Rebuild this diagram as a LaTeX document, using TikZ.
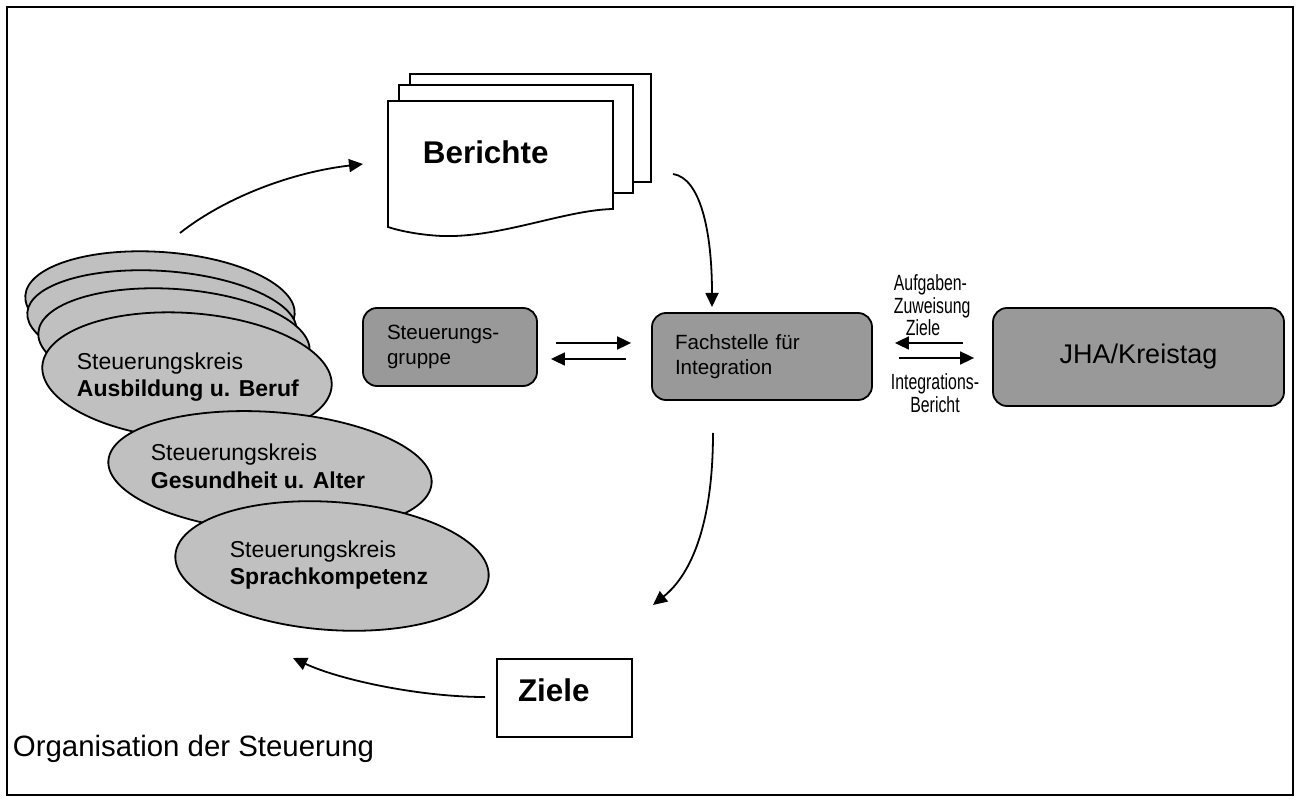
\documentclass[tikz,border=0pt]{standalone}
\usepackage{fontspec}
\setmainfont{Liberation Sans}
\newfontfamily\narrowfont[FakeStretch=0.72]{Liberation Sans}
\usetikzlibrary{arrows.meta}
\definecolor{kreisgray}{RGB}{192,192,192}
\definecolor{boxgray}{RGB}{153,153,153}

\begin{document}
\begin{tikzpicture}[x = 0.5pt, y = -0.5pt, line width = 0.9pt,
                    kreis/.style = {draw, fill = kreisgray},
                    kreistext/.style = {anchor = base west, align = left, inner sep = 0pt,
                                        font = \fontsize{11.5}{13.5}\selectfont},
                    gbox/.style = {draw, fill = boxgray, rounded corners = 7pt, inner sep = 0pt,
                                   align = left, font = \fontsize{10.3}{12.7}\selectfont},
                    doc/.style = {draw, fill = white},
                    arr/.style = {-{Triangle[length = 7pt, width = 6.5pt]}},
                    lbl/.style = {inner sep = 0pt, font = \narrowfont\fontsize{11}{9.5}\selectfont}]
      \useasboundingbox (0, 0) rectangle (1300, 801);
      \draw[line width = 1pt] (7, 7) rectangle (1293, 795);

      % Berichte
      \filldraw[doc] (410, 74) rectangle (651, 182);
      \filldraw[doc] (399, 85) rectangle (633, 193);
      \filldraw[doc] (388, 101) -- (613, 101) -- (613, 209)
            .. controls (565, 210) and (500, 238) .. (442, 236)
            .. controls (420, 235) and (400, 231) .. (388, 227) -- cycle;
      \node [anchor = base west, inner sep = 0pt, font = \bfseries\fontsize{15.7}{18}\selectfont]
            (berichte) at (422, 164){Berichte};

      % Steuerungskreise
      \filldraw[kreis, rotate around = {-4:(160, 305)}] (160, 305) ellipse [x radius = 135, y radius = 53];
      \filldraw[kreis, rotate around = {-4:(162, 322)}] (162, 322) ellipse [x radius = 135, y radius = 51];
      \filldraw[kreis, rotate around = {-4:(174, 342)}] (174, 342) ellipse [x radius = 136, y radius = 53];
      \filldraw[kreis, rotate around = {-4:(187, 376)}] (187, 376) ellipse [x radius = 145, y radius = 63];
      \filldraw[kreis, rotate around = {-4:(270, 472)}] (270, 472) ellipse [x radius = 162, y radius = 60];
      \filldraw[kreis, rotate around = {-4:(332, 566)}] (332, 566) ellipse [x radius = 157, y radius = 64];
      \node [kreistext] (ausbildung) at (76, 397){Steuerungskreis\\\textbf{Ausbildung u. Beruf}};
      \node [kreistext] (gesundheit) at (150, 488){Steuerungskreis\\\textbf{Gesundheit u. Alter}};
      \node [kreistext] (sprache) at (229, 584){Steuerungskreis\\\textbf{Sprachkompetenz}};

      % Gremien
      \node [gbox, minimum width = 87pt, minimum height = 39pt, text width = 63pt]
            (gruppe) at (450, 347){Steuerungs-\\gruppe};
      \node [gbox, minimum width = 110pt, minimum height = 43.5pt, text width = 87pt]
            (fachstelle) at (762, 356.5){Fachstelle f\"ur\\Integration};
      \node [gbox, minimum width = 145.5pt, minimum height = 49pt, align = center,
             font = \fontsize{13.5}{16}\selectfont]
            (jha) at (1138.5, 357){JHA/Kreistag};
      \node [draw, minimum width = 67.5pt, minimum height = 39pt, text width = 46.5pt,
             inner sep = 0pt, text height = 12pt, text depth = 9pt,
             font = \bfseries\fontsize{15.7}{18}\selectfont]
            (ziele) at (564.5, 698){Ziele};

      \node [lbl, anchor = north west, align = left] (auftrag) at (893, 274)
            {Aufgaben-\\Zuweisung\\\hspace*{6pt}Ziele};
      \node [lbl, anchor = north, align = center] (bericht) at (935, 373)
            {Integrations-\\Bericht};

      \node [anchor = base west, inner sep = 0pt, font = \fontsize{14.7}{17}\selectfont]
            (titel) at (12, 756){Organisation der Steuerung};

      % Pfeile
      \coordinate (k-out) at (180, 233);
      \coordinate (b-in) at (363, 164);
      \coordinate (b-out) at (673, 174);
      \coordinate (f-in) at (712, 307);
      \coordinate (f-out) at (713, 433);
      \coordinate (z-in) at (653, 605);
      \coordinate (z-out) at (485, 697);
      \coordinate (k-in) at (293, 658);
      \draw[arr] (k-out) .. controls (227, 196) and (294, 172) .. (b-in);
      \draw[arr] (b-out) .. controls (700, 178) and (712, 230) .. (f-in);
      \draw[arr] (f-out) .. controls (713, 520) and (693, 573) .. (z-in);
      \draw[arr] (z-out) .. controls (420, 697) and (340, 680) .. (k-in);

      \draw[arr, shorten < = 9pt, shorten > = 10pt] (gruppe.east |- 0, 343) -- (fachstelle.west |- 0, 343);
      \draw[arr, shorten < = 12.5pt, shorten > = 6.5pt] (fachstelle.west |- 0, 359) -- (gruppe.east |- 0, 359);
      \draw[arr, shorten < = 14.5pt, shorten > = 11pt] (jha.west |- 0, 343) -- (fachstelle.east |- 0, 343);
      \draw[arr, shorten < = 13pt, shorten > = 9pt] (fachstelle.east |- 0, 358) -- (jha.west |- 0, 358);
    \end{tikzpicture}
\end{document}
